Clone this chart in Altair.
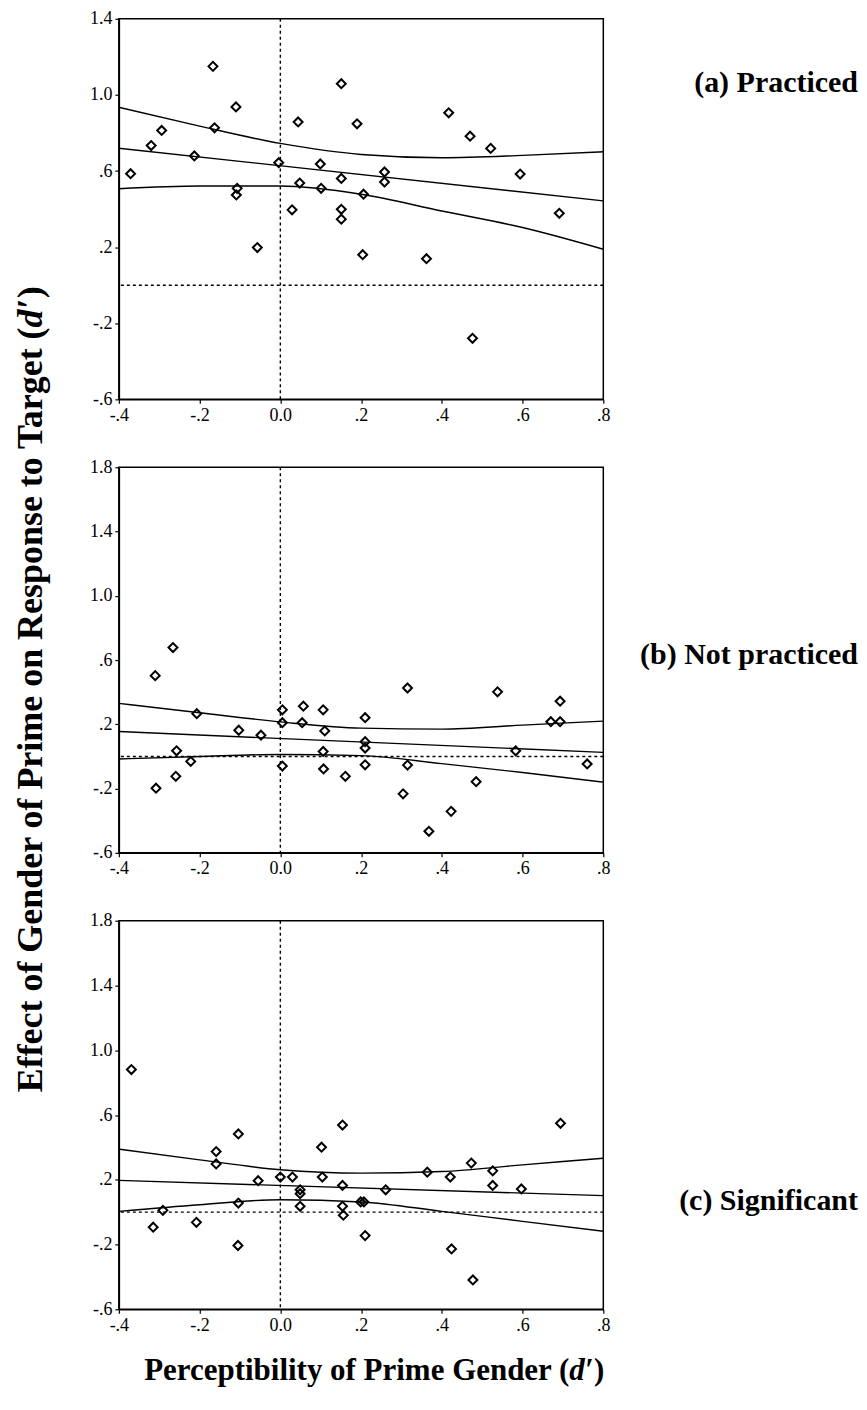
import altair as alt
import pandas as pd

# ---------------- data ----------------
# (a) Practiced
a_x = [-0.371, -0.320, -0.294, -0.213, -0.167, -0.163, -0.110, -0.107, -0.109, -0.057,
       -0.004, 0.029, 0.044, 0.048, 0.099, 0.101, 0.151, 0.151, 0.151, 0.151,
       0.190, 0.204, 0.206, 0.258, 0.258, 0.362, 0.417, 0.470, 0.476, 0.521,
       0.594, 0.691]
a_y = [0.586, 0.734, 0.813, 0.679, 1.150, 0.827, 0.937, 0.509, 0.474, 0.198,
       0.644, 0.396, 0.858, 0.537, 0.637, 0.509, 1.059, 0.561, 0.399, 0.347,
       0.848, 0.160, 0.478, 0.595, 0.542, 0.139, 0.906, 0.783, -0.279, 0.719,
       0.584, 0.378]

# (b) Not practiced
b_x = [-0.310, -0.266, -0.207, -0.257, -0.222, -0.259, -0.308, -0.103, -0.048, 0.005,
       0.005, 0.005, 0.057, 0.054, 0.106, 0.110, 0.106, 0.107, 0.161, 0.210,
       0.210, 0.210, 0.210, 0.315, 0.315, 0.304, 0.368, 0.423, 0.485, 0.538,
       0.583, 0.670, 0.693, 0.693, 0.760]
b_y = [0.503, 0.678, 0.266, 0.035, -0.031, -0.124, -0.198, 0.163, 0.132, 0.290,
       0.210, -0.060, 0.313, 0.210, 0.290, 0.159, 0.031, -0.078, -0.124, 0.241,
       0.092, 0.052, -0.052, 0.426, -0.054, -0.233, -0.466, -0.342, -0.157, 0.402,
       0.035, 0.216, 0.216, 0.344, -0.047]

# (c) Significant
c_x = [-0.369, -0.315, -0.291, -0.208, -0.159, -0.159, -0.104, -0.104, -0.105, -0.055,
       0.000, 0.030, 0.049, 0.049, 0.049, 0.102, 0.104, 0.154, 0.154, 0.154,
       0.156, 0.199, 0.207, 0.210, 0.261, 0.364, 0.421, 0.424, 0.473, 0.477,
       0.526, 0.526, 0.597, 0.694]
c_y = [0.881, -0.093, 0.011, -0.063, 0.374, 0.298, 0.483, 0.056, -0.206, 0.194,
       0.217, 0.217, 0.138, 0.114, 0.036, 0.401, 0.217, 0.538, 0.165, 0.036,
       -0.019, 0.063, 0.063, -0.145, 0.138, 0.247, 0.217, -0.227, 0.303, -0.419,
       0.255, 0.165, 0.143, 0.549]

# regression line and confidence band, read at the x tick positions
band_x = [-0.4, -0.2, 0.0, 0.2, 0.4, 0.6, 0.8]
a_upper = [0.935, 0.836, 0.745, 0.687, 0.670, 0.682, 0.701]
a_lower = [0.507, 0.521, 0.521, 0.478, 0.390, 0.303, 0.189]
b_upper = [0.330, 0.272, 0.215, 0.176, 0.170, 0.195, 0.220]
b_lower = [-0.016, 0.000, 0.012, 0.005, -0.045, -0.100, -0.160]
c_upper = [0.389, 0.323, 0.262, 0.241, 0.251, 0.292, 0.333]
c_lower = [0.005, 0.046, 0.077, 0.063, 0.005, -0.057, -0.118]
fit_x = [-0.4, 0.8]
a_fit = [0.720, 0.443]
b_fit = [0.155, 0.025]
c_fit = [0.196, 0.102]

# axes
x_ticks = [-0.4, -0.2, 0.0, 0.2, 0.4, 0.6, 0.8]
x_labels = ["-.4", "-.2", "0.0", ".2", ".4", ".6", ".8"]
y_ticks_a = [-0.6, -0.2, 0.2, 0.6, 1.0, 1.4]
y_labels_a = ["-.6", "-.2", ".2", ".6", "1.0", "1.4"]
y_ticks_bc = [-0.6, -0.2, 0.2, 0.6, 1.0, 1.4, 1.8]
y_labels_bc = ["-.6", "-.2", ".2", ".6", "1.0", "1.4", "1.8"]

panel_labels = ["(a) Practiced", "(b) Not practiced", "(c) Significant"]
# titles: [upright part, italic part, closing part]
y_title = ["Effect of Gender of Prime on Response to Target (", "d", "\u2032)"]
x_title = ["Perceptibility of Prime Gender (", "d", "\u2032)"]

# ---------------- drawing ----------------
FONT = "Liberation Serif"
W = 485


def label_expr(vals, labs):
    expr = "''"
    for v, l in zip(reversed(vals), reversed(labs)):
        expr = f"(abs(datum.value - ({v})) < 1e-6 ? '{l}' : {expr})"
    return expr


def text_piece(txt, x, y, size, align, angle=0, italic=False):
    return alt.Chart(pd.DataFrame({"t": [txt]})).mark_text(
        align=align, baseline="middle", font=FONT, fontWeight="bold",
        fontStyle="italic" if italic else "normal", fontSize=size,
        color="black", angle=angle
    ).encode(x=alt.value(x), y=alt.value(y), text="t:N")


def panel(xs, ys, up, lo, fit, yticks, ylabels, H, label, label_y,
          ytitle=None, xtitle=None):
    ymin, ymax = yticks[0], yticks[-1]
    xs_scale = alt.Scale(domain=[-0.4, 0.8], nice=False, zero=False)
    ys_scale = alt.Scale(domain=[ymin, ymax], nice=False, zero=False)

    common = dict(grid=False, labelFont=FONT, labelFontSize=18, labelColor="black",
                  labelPadding=3, tickColor="black", tickSize=4, tickWidth=1.2,
                  domainColor="black", domainWidth=1.5, labelFlush=False,
                  labelOverlap=False, title=None)
    xaxis = alt.Axis(values=x_ticks, labelExpr=label_expr(x_ticks, x_labels), **common)
    yaxis = alt.Axis(values=yticks, labelExpr=label_expr(yticks, ylabels), **common)

    pts = pd.DataFrame({"x": xs, "y": ys})
    band = pd.DataFrame({"x": band_x, "upper": up, "lower": lo})
    fitdf = pd.DataFrame({"x": fit_x, "y": fit})

    X = alt.X("x:Q", scale=xs_scale, axis=xaxis)
    Y = alt.Y("y:Q", scale=ys_scale, axis=yaxis)

    points = alt.Chart(pts).mark_point(
        shape="diamond", filled=False, stroke="black", strokeWidth=2,
        size=80, opacity=1
    ).encode(x=X, y=Y)

    up_line = alt.Chart(band).mark_line(
        color="black", strokeWidth=1.4, interpolate="monotone"
    ).encode(x=alt.X("x:Q", scale=xs_scale), y=alt.Y("upper:Q", scale=ys_scale))
    lo_line = alt.Chart(band).mark_line(
        color="black", strokeWidth=1.4, interpolate="monotone"
    ).encode(x=alt.X("x:Q", scale=xs_scale), y=alt.Y("lower:Q", scale=ys_scale))
    fit_line = alt.Chart(fitdf).mark_line(
        color="black", strokeWidth=1.4
    ).encode(x=alt.X("x:Q", scale=xs_scale), y=alt.Y("y:Q", scale=ys_scale))

    ref = pd.DataFrame({"v": [0.0]})
    vrule = alt.Chart(ref).mark_rule(
        color="black", strokeWidth=1.4, strokeDash=[3, 3]
    ).encode(x=alt.X("v:Q", scale=xs_scale))
    hrule = alt.Chart(ref).mark_rule(
        color="black", strokeWidth=1.4, strokeDash=[3, 3]
    ).encode(y=alt.Y("v:Q", scale=ys_scale))

    layers = [points, vrule, hrule, up_line, lo_line, fit_line,
              text_piece(label, W + 255, label_y, 30, "right")]

    if ytitle:
        tx, P = -88, -140
        layers += [
            text_piece(ytitle[0], tx, P, 36, "right", angle=270),
            text_piece(ytitle[1], tx, P, 36, "left", angle=270, italic=True),
            text_piece(ytitle[2], tx, P - 19, 36, "left", angle=270),
        ]
    if xtitle:
        ty, P = H + 62, 451
        layers += [
            text_piece(xtitle[0], P, ty, 31, "right"),
            text_piece(xtitle[1], P, ty, 31, "left", italic=True),
            text_piece(xtitle[2], P + 16, ty, 31, "left"),
        ]

    return alt.layer(*layers).properties(width=W, height=H)


pa = panel(a_x, a_y, a_upper, a_lower, a_fit, y_ticks_a, y_labels_a, 381,
           panel_labels[0], 64)
pb = panel(b_x, b_y, b_upper, b_lower, b_fit, y_ticks_bc, y_labels_bc, 386,
           panel_labels[1], 188, ytitle=y_title)
pc = panel(c_x, c_y, c_upper, c_lower, c_fit, y_ticks_bc, y_labels_bc, 389,
           panel_labels[2], 281, xtitle=x_title)

chart = alt.vconcat(pa, pb, pc, spacing=68, bounds="flush").properties(
    padding={"left": 4, "top": 0, "right": 0, "bottom": 0},
    background="white"
).configure_view(
    stroke="black", strokeWidth=1.5
)

chart.save("out.html", embed_options={"renderer": "svg", "actions": False})
